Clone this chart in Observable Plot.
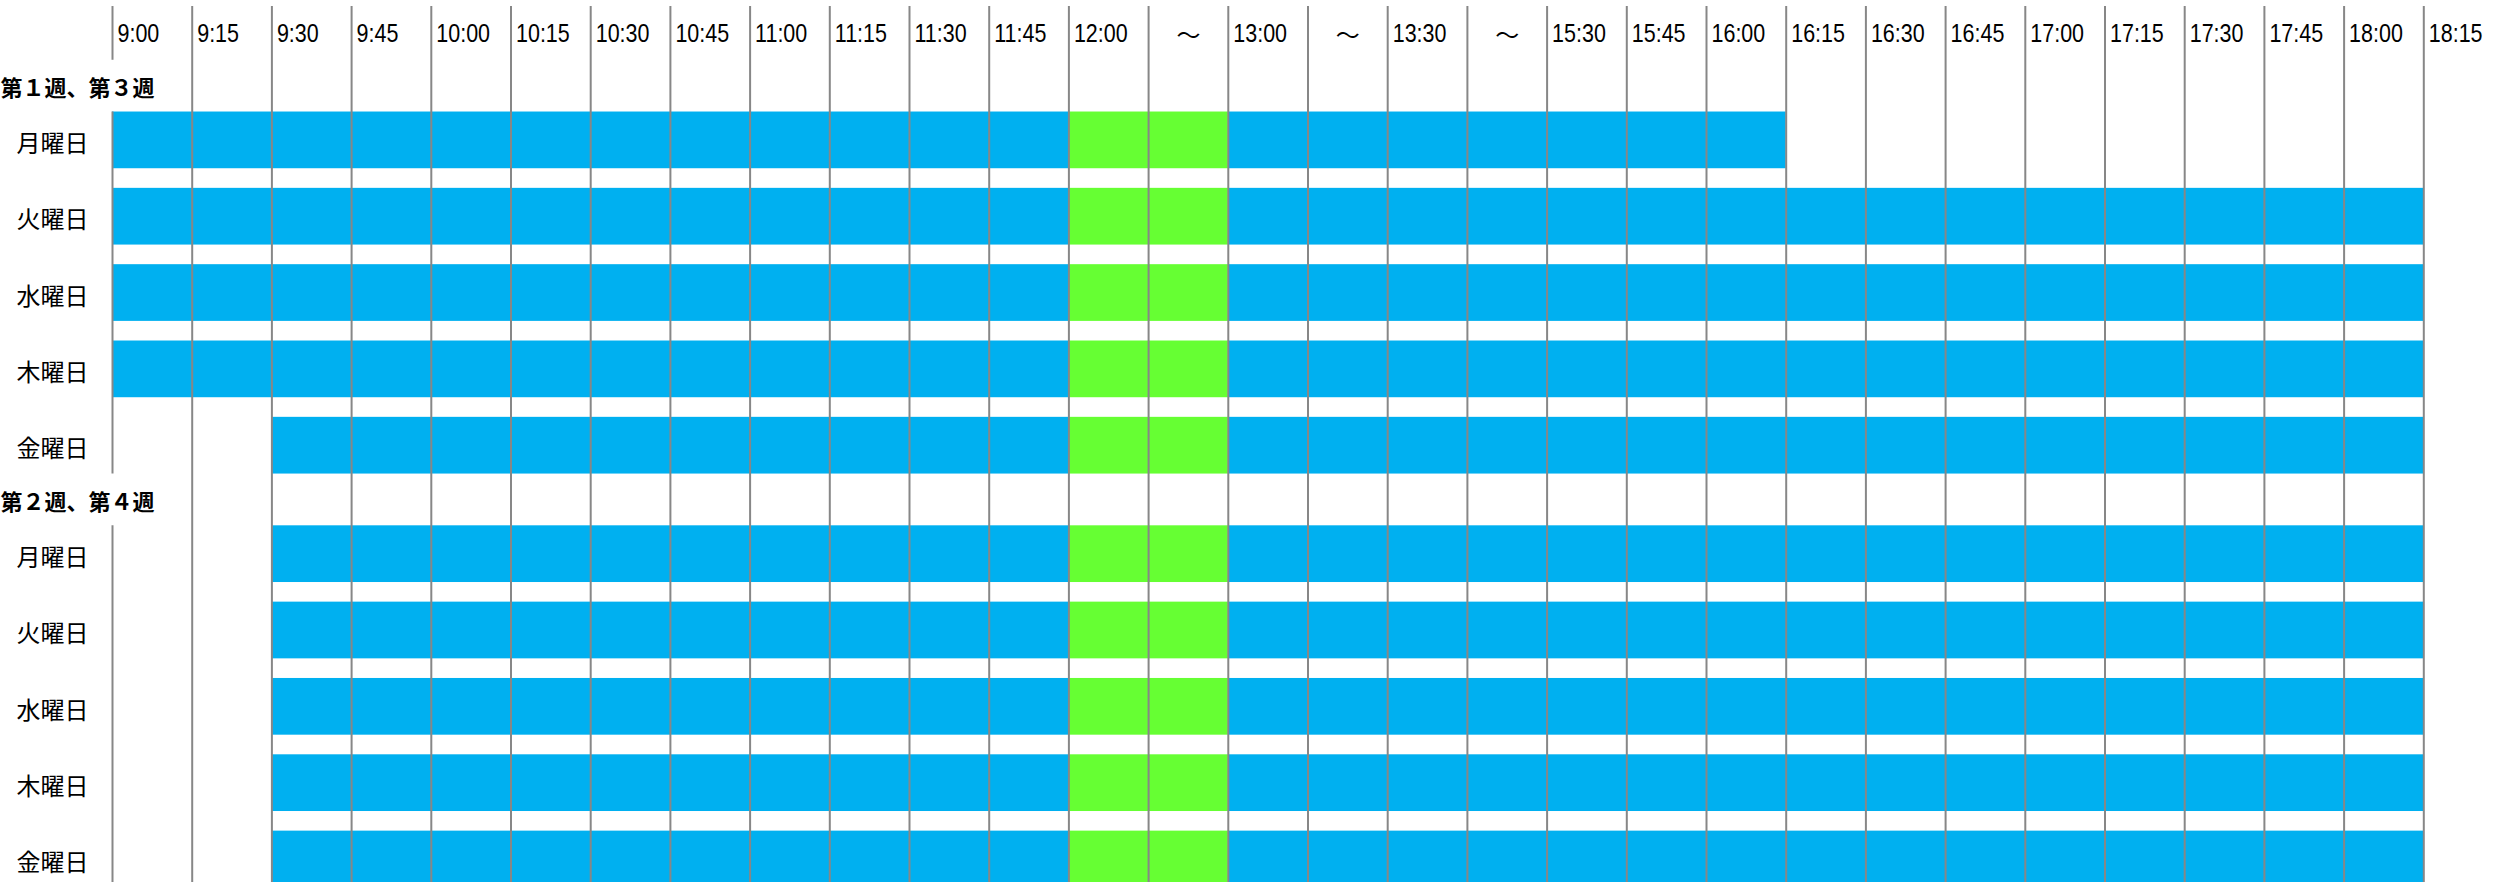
<!DOCTYPE html>
<html>
<head>
<meta charset="utf-8">
<script src="https://cdn.jsdelivr.net/npm/d3@7"></script>
<script src="https://cdn.jsdelivr.net/npm/@observablehq/plot@0.6"></script>
<style>
  html, body { margin: 0; padding: 0; background: #fff; }
  #chart svg { display: block; background: #fff; }
</style>
</head>
<body>
<div id="chart"></div>
<script>
// ---- data ----
const timeSlots = ["9:00","9:15","9:30","9:45","10:00","10:15","10:30","10:45","11:00","11:15","11:30","11:45","12:00","～","13:00","～","13:30","～","15:30","15:45","16:00","16:15","16:30","16:45","17:00","17:15","17:30","17:45","18:00","18:15"];
const weekGroups = ["第１週、第３週", "第２週、第４週"];
const weekdays = ["月曜日", "火曜日", "水曜日", "木曜日", "金曜日"];
// first and last open slot (inclusive) per group × weekday
const openFirst = [
  ["9:00", "9:00", "9:00", "9:00", "9:30"],
  ["9:30", "9:30", "9:30", "9:30", "9:30"]
];
const openLast = [
  ["16:00", "18:00", "18:00", "18:00", "18:00"],
  ["18:00", "18:00", "18:00", "18:00", "18:00"]
];
// lunch break: from the 12:00 slot up to (not including) the 13:00 slot
const lunchFrom = "12:00";
const lunchUntil = "13:00";

// ---- layout constants (row units: 1 = one weekday row pitch) ----
const BAND = 0.743;          // filled part of a weekday row
const HEAD = 0.678;          // height of a week-group heading row
const GROUP = 4 + BAND + HEAD;
const HEADER_TOP = -1.382;
const HEADER_LABEL = -1.016;
const Y_MIN = -1.461, Y_MAX = 10.094;

const BLUE = "#00B0F0", GREEN = "#66FF33", GRID = "#878787";

const idx = t => timeSlots.indexOf(t);
const lunchS = idx(lunchFrom), lunchE = idx(lunchUntil);

const rows = [];
weekGroups.forEach((g, gi) => {
  weekdays.forEach((d, di) => {
    rows.push({
      group: g, day: d,
      top: gi * GROUP + di,
      start: idx(openFirst[gi][di]),
      end: idx(openLast[gi][di]) + 1
    });
  });
});

const blueSegs = [], greenSegs = [];
for (const r of rows) {
  blueSegs.push({x1: r.start, x2: Math.min(r.end, lunchS), y1: r.top, y2: r.top + BAND});
  greenSegs.push({x1: Math.max(r.start, lunchS), x2: Math.min(r.end, lunchE), y1: r.top, y2: r.top + BAND});
  if (r.end > lunchE) blueSegs.push({x1: lunchE, x2: r.end, y1: r.top, y2: r.top + BAND});
}

const slotData = timeSlots.map((t, i) => ({t, i}));
const firstLineSegs = [
  {y1: HEADER_TOP, y2: -HEAD},
  ...weekGroups.map((g, gi) => ({y1: gi * GROUP, y2: gi === weekGroups.length - 1 ? Y_MAX : gi * GROUP + 4 + BAND}))
];

const latin = "'Liberation Sans', Arial, sans-serif";
const cjk = "'Noto Sans CJK JP', sans-serif";

const chart = Plot.plot({
  width: 2502,
  height: 882,
  marginLeft: 112,
  marginRight: -1,
  marginTop: 0,
  marginBottom: 0,
  style: {background: "#fff"},
  x: {domain: [0, timeSlots.length], axis: null},
  y: {domain: [Y_MIN, Y_MAX], reverse: true, axis: null},
  marks: [
    Plot.rect(blueSegs, {x1: "x1", x2: "x2", y1: "y1", y2: "y2", fill: BLUE}),
    Plot.rect(greenSegs, {x1: "x1", x2: "x2", y1: "y1", y2: "y2", fill: GREEN}),
    Plot.ruleX(d3.range(1, timeSlots.length), {x: d => d, y1: HEADER_TOP, y2: Y_MAX, stroke: GRID, strokeWidth: 2}),
    Plot.ruleX(firstLineSegs, {x: 0, y1: "y1", y2: "y2", stroke: GRID, strokeWidth: 2}),
    Plot.text(slotData.filter(d => d.t !== "～"), {x: "i", y: HEADER_LABEL, text: "t", textAnchor: "start", dx: 5, fontSize: 25, fontFamily: latin, fill: "#000"}),
    Plot.text(slotData.filter(d => d.t === "～"), {x: d => d.i + 0.5, y: HEADER_LABEL, text: "t", textAnchor: "middle", dy: 2, fontSize: 24, fontFamily: cjk, fill: "#000"}),
    Plot.text(rows, {frameAnchor: "left", y: d => d.top + BAND / 2, text: "day", textAnchor: "middle", dx: -60, dy: 4, fontSize: 24, fontFamily: cjk, fill: "#000"}),
    Plot.text(weekGroups.map((g, gi) => ({g, gi})), {frameAnchor: "left", y: d => d.gi * GROUP - HEAD / 2, text: "g", textAnchor: "start", dx: -112, dy: 3, fontSize: 22, fontWeight: "bold", fontFamily: cjk, fill: "#000"})
  ]
});
// narrow the time labels (condensed look of the original)
d3.select(chart).selectAll("text").each(function() {
  if (/^\d+:\d+$/.test(this.textContent)) {
    const t = this.getAttribute("transform") || "";
    this.setAttribute("transform", t + " scale(0.86,1)");
  }
});
document.getElementById("chart").appendChild(chart);
</script>
</body>
</html>
